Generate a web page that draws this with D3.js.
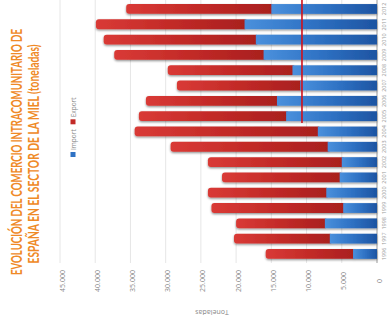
<!DOCTYPE html>
<html><head><meta charset="utf-8">
<script src="https://cdn.jsdelivr.net/npm/d3@7/dist/d3.min.js"></script>
<style>html,body{margin:0;padding:0;background:#fff;}svg{display:block;}</style>
</head><body>
<svg id="c" width="389" height="322"></svg>
<script>
// Data (tonnes)
const years   = ["1996","1997","1998","1999","2000","2001","2002","2003","2004","2005","2006","2007","2008","2009","2010","2011","2012"];
const imports = [3400,6700,7400,4800,7200,5300,5000,7000,8400,12900,14200,10900,12000,16100,17200,18800,15000];
const exports = [12400,13600,12600,18700,16800,16700,19000,22300,26000,20900,18600,17500,17700,21200,21600,21100,20600];
const ticks   = [0,5000,10000,15000,20000,25000,30000,35000,40000,45000];
const seriesNames = ["Import","Export"];
const markValue = 10650;
const titleLines = ["EVOLUCIÓN DEL COMERCIO INTRACOMUNITARIO DE","ESPAÑA EN EL SECTOR DE LA MIEL (toneladas)"];
const axisTitle = "Toneladas";

const svg = d3.select("#c");
const defs = svg.append("defs");
function grad(id, stops){
  const g = defs.append("linearGradient").attr("id", id).attr("x1","0").attr("x2","1").attr("y1","0").attr("y2","0");
  stops.forEach(s => g.append("stop").attr("offset", s[0]).attr("stop-color", s[1]));
}
grad("gRed", [[0,"#d93a36"],[0.5,"#c22a27"],[1,"#a81f1e"]]);
grad("gBlue", [[0,"#4a90dc"],[0.5,"#2f72c4"],[1,"#1d54a2"]]);
const sh = defs.append("filter").attr("id","sh").attr("x","-5%").attr("y","-40%").attr("width","110%").attr("height","200%");
sh.append("feDropShadow").attr("dx",0).attr("dy",1.2).attr("stdDeviation",0.8).attr("flood-color","#000").attr("flood-opacity",0.45);

const x = d3.scaleLinear().domain([0,45000]).range([377,60]);
const y = d3.scaleBand().domain(years.slice().reverse()).range([1.3,261.6]).paddingInner(0.36).paddingOuter(0.18);

const loc = d3.formatLocale({decimal:",", thousands:".", grouping:[3], currency:["","€"]});
const fmt = loc.format(",");

// gridlines
svg.append("g").selectAll("line").data(ticks.filter(t=>t>0)).join("line")
  .attr("x1", d=>x(d)).attr("x2", d=>x(d)).attr("y1",0).attr("y2",263)
  .attr("stroke","#e6e6e6").attr("stroke-width",1);

// axis line
svg.append("line").attr("x1",x(0)).attr("x2",x(0)).attr("y1",0).attr("y2",263).attr("stroke","#999").attr("stroke-width",1);

// bars
const data = years.map((yr,i)=>({yr, imp:imports[i], exp:exports[i]}));
const bg = svg.append("g").attr("filter","url(#sh)");
const rows = bg.selectAll("g").data(data).join("g");
rows.append("rect")
  .attr("x", d=>x(d.imp+d.exp)).attr("y", d=>y(d.yr))
  .attr("width", d=>x(d.imp)-x(d.imp+d.exp)+3).attr("height", y.bandwidth())
  .attr("rx",3).attr("fill","url(#gRed)");
rows.append("rect")
  .attr("x", d=>x(d.imp)).attr("y", d=>y(d.yr))
  .attr("width", d=>x(0)-x(d.imp)).attr("height", y.bandwidth())
  .attr("fill","url(#gBlue)");

// annotation red line
svg.append("line").attr("x1",x(markValue)).attr("x2",x(markValue)).attr("y1",0).attr("y2",123)
  .attr("stroke","#d0101a").attr("stroke-width",1.6);

// year labels
svg.append("g").selectAll("text").data(years).join("text")
  .attr("transform", d=>`translate(384,${y(d)+y.bandwidth()/2}) rotate(-90)`)
  .attr("text-anchor","middle").attr("dominant-baseline","central")
  .attr("font-family","Open Sans, sans-serif").attr("font-size",5.5).attr("fill","#999")
  .text(d=>d);

// tick labels
svg.append("g").selectAll("text").data(ticks).join("text")
  .attr("transform", d=>`translate(${x(d)+2},281) rotate(-90)`)
  .attr("text-anchor","middle").attr("dominant-baseline","central")
  .attr("font-family","Open Sans, sans-serif").attr("font-size",7).attr("fill","#8a8a8a")
  .text(d=>fmt(d));

// axis title (upside down)
svg.append("text").attr("transform","translate(212,312) rotate(180)")
  .attr("text-anchor","middle").attr("dominant-baseline","central")
  .attr("font-family","Open Sans, sans-serif").attr("font-size",7).attr("fill","#888")
  .text(axisTitle);

// legend (rotated)
const lg = svg.append("g").attr("transform","translate(73,157) rotate(-90)");
const colors = ["#2f72c4","#c22a27"];
let off = 0;
seriesNames.forEach((n,i)=>{
  lg.append("rect").attr("x",off).attr("y",-2.5).attr("width",5).attr("height",5).attr("fill",colors[i]);
  const t = lg.append("text").attr("x",off+7).attr("y",0).attr("dominant-baseline","central")
    .attr("font-family","Open Sans, sans-serif").attr("font-size",6.5).attr("fill","#888").text(n);
  off += 7 + t.node().getComputedTextLength() + 5;
});

// title
const tt = svg.append("g").attr("font-family","Lato, 'Open Sans', sans-serif").attr("font-weight","bold").attr("font-size",15).attr("fill","#ef8a27");
tt.append("text").attr("transform","translate(22,152) rotate(-90)").attr("text-anchor","middle")
  .attr("textLength",246).attr("lengthAdjust","spacingAndGlyphs").text(titleLines[0]);
tt.append("text").attr("transform","translate(38.5,154) rotate(-90)").attr("text-anchor","middle")
  .attr("textLength",219).attr("lengthAdjust","spacingAndGlyphs").text(titleLines[1]);
</script>
</body></html>
